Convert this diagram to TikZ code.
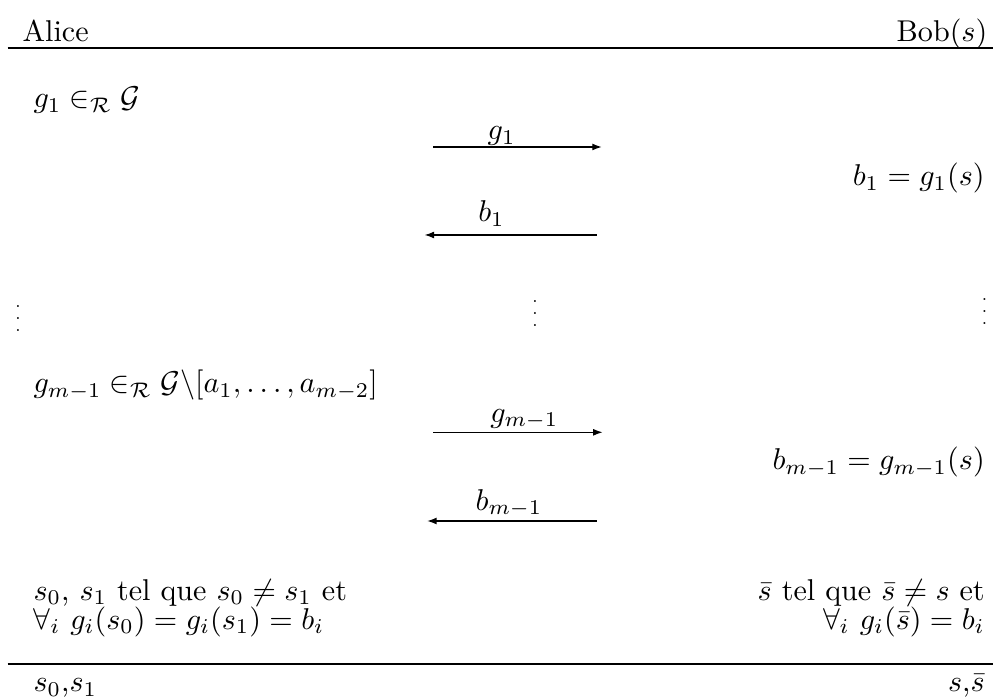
\documentclass[tikz,border=0pt]{standalone}
\usetikzlibrary{arrows.meta}
\tikzset{lbl/.style={inner sep=0pt,font=\fontsize{10}{9.6}\selectfont},msg/.style={-{Latex[length=1.1mm,width=.8mm]},line width=.4pt},hline/.style={line width=.8pt},dots/.style={inner sep=0pt,font=\fontsize{5.5}{6}\selectfont}}

\begin{document}
\begin{tikzpicture}[x=1cm,y=1cm]
\useasboundingbox (0,0) rectangle (11.6,-8.142);
% header
\node[lbl,anchor=base west] (alice) at (.257,-.49) {Alice};
\node[lbl,anchor=base east] (bob) at (11.54,-.49) {Bob$(s)$};
\coordinate (topL) at (.09,-.56); \coordinate (topR) at (11.6,-.56);
\draw[hline] (topL)--(topR);
% first round
\node[lbl,anchor=base west] (pick1) at (.385,-1.26) {$g_1 \in_{\mathcal{R}} \mathcal{G}$};
\coordinate (g1s) at (5.06,-1.717); \coordinate (g1e) at (7.03,-1.717);
\draw[msg] (g1s)--(g1e);
\node[lbl,anchor=base west] (g1lbl) at (5.69,-1.635) {$g_1$};
\node[lbl,anchor=base east] (ans1) at (11.51,-2.17) {$b_1 = g_1(s)$};
\coordinate (b1s) at (6.97,-2.745); \coordinate (b1e) at (4.96,-2.745);
\draw[msg] (b1s)--(b1e);
\node[lbl,anchor=base west] (b1lbl) at (5.58,-2.59) {$b_1$};
% dots
\node[dots] (dotsL) at (.21,-3.62) {$\vdots$};
\node[dots] (dotsM) at (6.25,-3.56) {$\vdots$};
\node[dots] (dotsR) at (11.5,-3.53) {$\vdots$};
% last round
\node[lbl,anchor=base west] (pickm) at (.385,-4.59) {$g_{m-1} \in_{\mathcal{R}} \mathcal{G}\backslash[a_1,\ldots,a_{m-2}]$};
\coordinate (gms) at (5.06,-5.05); \coordinate (gme) at (7.04,-5.05);
\draw[msg] (gms)--(gme);
\node[lbl,anchor=base west] (gmlbl) at (5.72,-4.93) {$g_{m-1}$};
\node[lbl,anchor=base east] (ansm) at (11.51,-5.49) {$b_{m-1} = g_{m-1}(s)$};
\coordinate (bms) at (6.97,-6.086); \coordinate (bme) at (4.99,-6.086);
\draw[msg] (bms)--(bme);
\node[lbl,anchor=base west] (bmlbl) at (5.55,-5.96) {$b_{m-1}$};
% conclusions
\node[lbl,align=left,anchor=north west] (outA) at (.385,-6.76) {$s_0$, $s_1$ tel que $s_0 \neq s_1$ et\\$\forall_i\ g_i(s_0) = g_i(s_1) = b_i$};
\node[lbl,align=right,anchor=north east] (outB) at (11.51,-6.76) {$\bar{s}$ tel que $\bar{s} \neq s$ et\\$\forall_i\ g_i(\bar{s}) = b_i$};
\coordinate (botL) at (.09,-7.757); \coordinate (botR) at (11.6,-7.757);
\draw[hline] (botL)--(botR);
\node[lbl,anchor=base west] (resA) at (.385,-8.08) {$s_0$,$s_1$};
\node[lbl,anchor=base east] (resB) at (11.51,-8.08) {$s$,$\bar{s}$};
\end{tikzpicture}
\end{document}
